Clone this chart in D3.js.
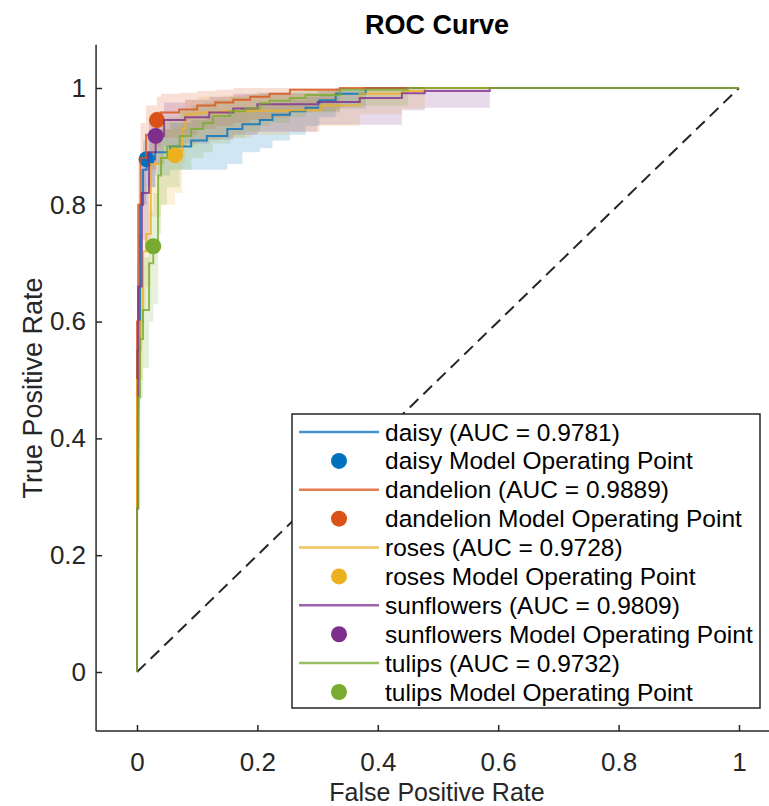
<!DOCTYPE html>
<html>
<head>
<meta charset="utf-8">
<script src="https://cdn.jsdelivr.net/npm/d3@7"></script>
<style>
  html, body { margin: 0; padding: 0; background: #fff; }
  svg { display: block; }
  text { font-family: "Liberation Sans", Arial, Helvetica, sans-serif; }
</style>
</head>
<body>
<svg id="chart" width="769" height="806"></svg>
<script>
// ---- ROC data per class: step vertices (FPR, TPR) with confidence band bounds ----
// Each vertex (fpr[k], tpr[k]) marks where the curve rises to tpr[k].
const classNames = ["daisy", "dandelion", "roses", "sunflowers", "tulips"];
const aucValues = [0.9781, 0.9889, 0.9728, 0.9809, 0.9732];
const classColors = ["#0072BD", "#D95319", "#EDB120", "#7E2F8E", "#77AC30"];

const daisyFpr = [0, 0, 0.005, 0.01, 0.016, 0.03, 0.055, 0.09, 0.116, 0.15, 0.175, 0.204, 0.225, 0.254, 0.28, 0.303, 0.33, 0.38, 1];
const daisyTpr = [0, 0.55, 0.80, 0.86, 0.878, 0.89, 0.90, 0.91, 0.918, 0.93, 0.938, 0.945, 0.954, 0.96, 0.966, 0.979, 0.99, 1, 1];
const daisyLo  = [0, 0.45, 0.72, 0.80, 0.83, 0.85, 0.86, 0.86, 0.86, 0.87, 0.89, 0.897, 0.91, 0.92, 0.935, 0.95, 0.965, 1, 1];
const daisyHi  = [0, 0.65, 0.86, 0.91, 0.92, 0.93, 0.94, 0.945, 0.95, 0.96, 0.965, 0.97, 0.975, 0.98, 0.985, 0.99, 1, 1, 1];

const dandelionFpr = [0, 0, 0.002, 0.006, 0.015, 0.033, 0.04, 0.07, 0.1, 0.13, 0.16, 0.188, 0.22, 0.254, 0.337, 1];
const dandelionTpr = [0, 0.6, 0.8, 0.88, 0.92, 0.945, 0.958, 0.963, 0.97, 0.975, 0.98, 0.985, 0.99, 0.997, 1, 1];
const dandelionLo  = [0, 0.5, 0.7, 0.8, 0.86, 0.9, 0.915, 0.92, 0.93, 0.935, 0.94, 0.945, 0.95, 0.96, 1, 1];
const dandelionHi  = [0, 0.7, 0.88, 0.94, 0.97, 0.985, 0.99, 0.992, 0.995, 0.997, 1, 1, 1, 1, 1, 1];

const rosesFpr = [0, 0, 0.005, 0.01, 0.015, 0.023, 0.04, 0.063, 0.075, 0.08, 0.1, 0.14, 0.19, 0.254, 0.304, 0.37, 0.44, 0.478, 1];
const rosesTpr = [0, 0.5, 0.6, 0.72, 0.75, 0.87, 0.88, 0.885, 0.93, 0.955, 0.958, 0.96, 0.961, 0.962, 0.97, 0.99, 0.995, 1, 1];
const rosesLo  = [0, 0.4, 0.5, 0.62, 0.66, 0.78, 0.8, 0.82, 0.87, 0.9, 0.91, 0.915, 0.92, 0.925, 0.935, 0.955, 0.965, 1, 1];
const rosesHi  = [0, 0.6, 0.7, 0.8, 0.83, 0.92, 0.93, 0.935, 0.965, 0.98, 0.985, 0.987, 0.99, 0.99, 0.995, 1, 1, 1, 1];

const sunflowersFpr = [0, 0, 0.002, 0.008, 0.02, 0.031, 0.045, 0.08, 0.12, 0.16, 0.2, 0.3, 0.37, 0.44, 0.478, 0.586, 1];
const sunflowersTpr = [0, 0.28, 0.66, 0.82, 0.89, 0.918, 0.945, 0.95, 0.958, 0.965, 0.972, 0.976, 0.983, 0.991, 0.995, 1, 1];
const sunflowersLo  = [0, 0.2, 0.55, 0.74, 0.83, 0.87, 0.9, 0.905, 0.912, 0.92, 0.925, 0.937, 0.937, 0.962, 0.966, 1, 1];
const sunflowersHi  = [0, 0.4, 0.75, 0.88, 0.94, 0.96, 0.975, 0.98, 0.985, 0.99, 0.992, 0.995, 0.997, 1, 1, 1, 1];

const tulipsFpr = [0, 0, 0.002, 0.005, 0.01, 0.02, 0.027, 0.035, 0.04, 0.05, 0.071, 0.09, 0.11, 0.126, 0.155, 0.18, 0.204, 0.22, 0.254, 0.28, 0.337, 0.45, 1];
const tulipsTpr = [0, 0.28, 0.47, 0.57, 0.62, 0.70, 0.729, 0.85, 0.88, 0.90, 0.918, 0.93, 0.94, 0.952, 0.96, 0.965, 0.974, 0.978, 0.983, 0.988, 0.997, 1, 1];
const tulipsLo  = [0, 0.2, 0.38, 0.47, 0.52, 0.6, 0.63, 0.75, 0.8, 0.83, 0.86, 0.88, 0.89, 0.905, 0.915, 0.925, 0.935, 0.94, 0.95, 0.958, 0.97, 1, 1];
const tulipsHi  = [0, 0.36, 0.56, 0.66, 0.71, 0.79, 0.82, 0.92, 0.94, 0.95, 0.96, 0.97, 0.975, 0.98, 0.985, 0.988, 0.99, 0.992, 0.995, 0.997, 1, 1, 1];

// Model operating points (FPR, TPR)
const opFpr = [0.016, 0.033, 0.063, 0.031, 0.027];
const opTpr = [0.878, 0.945, 0.885, 0.918, 0.729];

const xTicks = [0, 0.2, 0.4, 0.6, 0.8, 1];
const yTicks = [0, 0.2, 0.4, 0.6, 0.8, 1];
const xTickLabels = ["0", "0.2", "0.4", "0.6", "0.8", "1"];
const yTickLabels = ["0", "0.2", "0.4", "0.6", "0.8", "1"];

const curves = [
  { fpr: daisyFpr, tpr: daisyTpr, lo: daisyLo, hi: daisyHi },
  { fpr: dandelionFpr, tpr: dandelionTpr, lo: dandelionLo, hi: dandelionHi },
  { fpr: rosesFpr, tpr: rosesTpr, lo: rosesLo, hi: rosesHi },
  { fpr: sunflowersFpr, tpr: sunflowersTpr, lo: sunflowersLo, hi: sunflowersHi },
  { fpr: tulipsFpr, tpr: tulipsTpr, lo: tulipsLo, hi: tulipsHi }
];

// ---- layout ----
const svg = d3.select("#chart");
const axisColor = "#262626";

const x = d3.scaleLinear().domain([0, 1]).range([137, 739]);
const y = d3.scaleLinear().domain([0, 1]).range([672, 88]);
const xLeft = x(-0.068), xRight = x(1.055);
const yBottom = y(-0.101), yTop = y(1.074);

const plot = svg.append("g");

const area = d3.area().curve(d3.curveStepAfter)
  .x(d => x(d[0])).y0(d => y(d[1])).y1(d => y(d[2]));
const stepLine = d3.line().curve(d3.curveStepAfter)
  .x(d => x(d[0])).y(d => y(d[1]));
const straightLine = d3.line().x(d => x(d[0])).y(d => y(d[1]));

// chance diagonal
plot.append("path")
  .attr("d", straightLine([[0, 0], [1, 1]]))
  .attr("fill", "none").attr("stroke", axisColor)
  .attr("stroke-width", 2).attr("stroke-dasharray", "12,7");

// confidence bands
curves.forEach((c, i) => {
  const band = c.fpr.map((f, k) => [f, c.lo[k], c.hi[k]]);
  plot.append("path").attr("d", area(band))
    .attr("fill", classColors[i]).attr("fill-opacity", 0.18).attr("stroke", "none");
});
// ROC curves and operating points
curves.forEach((c, i) => {
  const pts = c.fpr.map((f, k) => [f, c.tpr[k]]);
  plot.append("path").attr("d", stepLine(pts))
    .attr("fill", "none").attr("stroke", classColors[i])
    .attr("stroke-opacity", 0.8).attr("stroke-width", 2);
  plot.append("circle")
    .attr("cx", x(opFpr[i])).attr("cy", y(opTpr[i])).attr("r", 8)
    .attr("fill", classColors[i]);
});

// ---- axes ----
const axes = svg.append("g");
const xAxis = d3.axisBottom(x).tickValues(xTicks)
  .tickFormat((d, i) => xTickLabels[i]).tickSizeInner(-6).tickSizeOuter(0).tickPadding(22);
const yAxis = d3.axisLeft(y).tickValues(yTicks)
  .tickFormat((d, i) => yTickLabels[i]).tickSizeInner(-6).tickSizeOuter(0).tickPadding(10);

const gx = axes.append("g").attr("transform", `translate(0,${yBottom})`).call(xAxis);
const gy = axes.append("g").attr("transform", `translate(${xLeft},0)`).call(yAxis);
gx.select(".domain").remove();
gy.select(".domain").remove();
[gx, gy].forEach(g => {
  g.selectAll(".tick line").attr("stroke", axisColor).attr("stroke-width", 1.5);
  g.selectAll(".tick text").attr("fill", axisColor)
    .style("font-size", "26px").style("font-family", "'Liberation Sans', Arial, sans-serif");
});
axes.append("line").attr("x1", xLeft).attr("x2", xRight).attr("y1", yBottom).attr("y2", yBottom)
  .attr("stroke", axisColor).attr("stroke-width", 1.5);
axes.append("line").attr("x1", xLeft).attr("x2", xLeft).attr("y1", yTop).attr("y2", yBottom)
  .attr("stroke", axisColor).attr("stroke-width", 1.5);

// axis titles and chart title
svg.append("text").attr("x", 437).attr("y", 801).attr("text-anchor", "middle")
  .attr("fill", axisColor).style("font-size", "25px").text("False Positive Rate");
svg.append("text").attr("transform", "translate(42,388) rotate(-90)").attr("text-anchor", "middle")
  .attr("fill", axisColor).style("font-size", "27px").text("True Positive Rate");
svg.append("text").attr("x", 437).attr("y", 34).attr("text-anchor", "middle")
  .attr("fill", "#000").style("font-size", "27px").style("font-weight", "bold").text("ROC Curve");

// ---- legend ----
const legend = svg.append("g");
legend.append("rect").attr("x", 292).attr("y", 414).attr("width", 468).attr("height", 294)
  .attr("fill", "#fff").attr("stroke", axisColor).attr("stroke-width", 1.5);
const rowY = d3.scaleLinear().domain([0, 9]).range([432, 692]);
classNames.forEach((name, i) => {
  const y1 = rowY(2 * i), y2 = rowY(2 * i + 1);
  legend.append("line").attr("x1", 299).attr("x2", 379).attr("y1", y1).attr("y2", y1)
    .attr("stroke", classColors[i]).attr("stroke-opacity", 0.75).attr("stroke-width", 2.5);
  legend.append("text").attr("x", 385).attr("y", y1).attr("dy", "0.35em")
    .attr("fill", "#000").style("font-size", "24.5px")
    .text(`${name} (AUC = ${aucValues[i].toFixed(4)})`);
  legend.append("circle").attr("cx", 339).attr("cy", y2).attr("r", 8).attr("fill", classColors[i]);
  legend.append("text").attr("x", 385).attr("y", y2).attr("dy", "0.35em")
    .attr("fill", "#000").style("font-size", "24.5px")
    .text(`${name} Model Operating Point`);
});
</script>
</body>
</html>
